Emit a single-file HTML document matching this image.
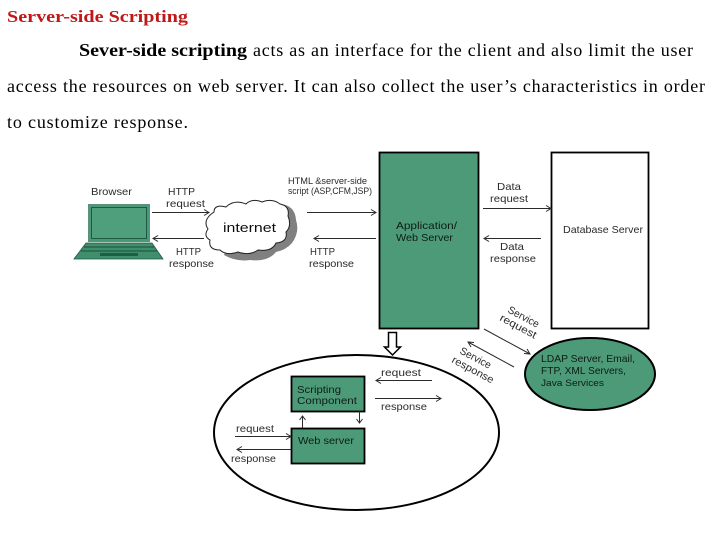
<!DOCTYPE html>
<html>
<head>
<meta charset="utf-8">
<style>
html,body{margin:0;padding:0;background:#fff;width:720px;height:540px;overflow:hidden}
svg{display:block}
.t{font-family:"Liberation Serif",serif;font-size:18px;fill:#000}
.d{font-family:"Liberation Sans",sans-serif;font-size:10.5px;fill:#2a2a2a}
.s{font-size:9px}
.g{fill:#0c1c18}
.a{stroke:#2a2a2a;stroke-width:1;fill:none}
</style>
</head>
<body>
<svg width="720" height="540" viewBox="0 0 720 540" xmlns="http://www.w3.org/2000/svg">
<defs><filter id="b" x="-5%" y="-5%" width="110%" height="110%"><feGaussianBlur stdDeviation="0.38"/></filter></defs>
<rect width="720" height="540" fill="#fff"/>

<text class="t" x="7" y="22" font-weight="bold" style="fill:#c01818;font-size:17px" textLength="181" lengthAdjust="spacingAndGlyphs">Server-side Scripting</text>
<text class="t" x="79" y="56" font-weight="bold" textLength="168" lengthAdjust="spacingAndGlyphs">Sever-side scripting</text>
<text class="t" x="253" y="56" textLength="440" lengthAdjust="spacing">acts as an interface for the client and also limit the user</text>
<text class="t" x="7" y="92" textLength="698" lengthAdjust="spacing">access the resources on web server. It can also collect the user’s characteristics in order</text>
<text class="t" x="7" y="128" textLength="181" lengthAdjust="spacing">to customize response.</text>

<g filter="url(#b)">
<!-- Laptop -->
<rect x="88.500" y="204.500" width="61" height="37" fill="#4a9a78" stroke="#5f8f7a"/>
<rect x="91.500" y="207.500" width="55" height="31" fill="#4f9f7c" stroke="#1f5a42"/>
<path d="M86 243H152L163 259H74Z" fill="#3f8f6c" stroke="#1f5a42" stroke-width=".8"/>
<path d="M84 247H154M81 251H157" stroke="#1f4f3a" stroke-width="1"/>
<rect x="100" y="253" width="38" height="3" fill="#1f5f45"/>

<text class="d" x="91" y="195" textLength="41" lengthAdjust="spacingAndGlyphs">Browser</text>
<text class="d" x="168" y="195" textLength="27" lengthAdjust="spacingAndGlyphs">HTTP</text>
<text class="d" x="166" y="207" textLength="39" lengthAdjust="spacingAndGlyphs">request</text>
<text class="d" x="176" y="255" textLength="25" lengthAdjust="spacingAndGlyphs">HTTP</text>
<text class="d" x="169" y="267" textLength="45" lengthAdjust="spacingAndGlyphs">response</text>
<text class="d" x="310" y="255" textLength="25" lengthAdjust="spacingAndGlyphs">HTTP</text>
<text class="d" x="309" y="267" textLength="45" lengthAdjust="spacingAndGlyphs">response</text>
<text class="d s" x="288" y="184" textLength="79" lengthAdjust="spacingAndGlyphs">HTML &amp;server-side</text>
<text class="d s" x="288" y="194" textLength="84" lengthAdjust="spacingAndGlyphs">script (ASP,CFM,JSP)</text>

<!-- Cloud -->
<path d="M280 204Q295 205 296 220Q300 232 292 243Q286 250 276 252Q268 262 250 260Q236 262 224 255L230 240Z" fill="#808080"/>
<path d="M214 212Q214 204 226 207Q234 199 246 204Q252 198 262 202Q272 198 280 204Q290 206 288 216Q292 226 286 232Q288 242 276 243Q272 252 258 250Q250 256 238 252Q226 256 220 250Q208 250 210 240Q203 236 208 229Q202 220 214 212Z" fill="#fff" stroke="#222" stroke-width="1"/>
<text x="223" y="232" font-family="'Liberation Sans',sans-serif" font-size="13" fill="#111" textLength="53" lengthAdjust="spacingAndGlyphs">internet</text>

<!-- Browser arrows -->
<path class="a" d="M152 212.500H209M204 209.500L209 212.500L204 215.500"/>
<path class="a" d="M204 238.500H153M158 235.500L153 238.500L158 241.500"/>
<path class="a" d="M307 212.500H376M371 209.500L376 212.500L371 215.500"/>
<path class="a" d="M376 238.500H314M319 235.500L314 238.500L319 241.500"/>

<!-- App server -->
<rect x="379.500" y="152.500" width="99" height="176" fill="#4d9a78" stroke="#000" stroke-width="1.800"/>
<text class="d g" x="396" y="229" textLength="61" lengthAdjust="spacingAndGlyphs">Application/</text>
<text class="d g" x="396" y="241" textLength="57" lengthAdjust="spacingAndGlyphs">Web Server</text>

<!-- DB -->
<rect x="551.500" y="152.500" width="97" height="176" fill="#fff" stroke="#000" stroke-width="1.800"/>
<text class="d" x="563" y="233" textLength="80" lengthAdjust="spacingAndGlyphs">Database Server</text>
<text class="d" x="497" y="190" textLength="24" lengthAdjust="spacingAndGlyphs">Data</text>
<text class="d" x="490" y="202" textLength="38" lengthAdjust="spacingAndGlyphs">request</text>
<path class="a" d="M483 208.500H551M546 205.500L551 208.500L546 211.500"/>
<path class="a" d="M541 238.500H484M489 235.500L484 238.500L489 241.500"/>
<text class="d" x="500" y="250" textLength="24" lengthAdjust="spacingAndGlyphs">Data</text>
<text class="d" x="490" y="262" textLength="46" lengthAdjust="spacingAndGlyphs">response</text>

<!-- Large ellipse -->
<ellipse cx="356.500" cy="432.500" rx="142.500" ry="77.500" fill="#fff" stroke="#000" stroke-width="2"/>
<!-- Down arrow -->
<path d="M388.500 332.500H396.500V347H400.500L392.500 355L384.500 347H388.500Z" fill="#fff" stroke="#000" stroke-width="1.500"/>

<!-- Service labels/arrows -->
<text class="d" transform="translate(507 312) rotate(28)" textLength="34" lengthAdjust="spacingAndGlyphs">Service</text>
<text class="d" transform="translate(499 320) rotate(28)" textLength="40" lengthAdjust="spacingAndGlyphs">request</text>
<text class="d" transform="translate(459 353) rotate(28)" textLength="34" lengthAdjust="spacingAndGlyphs">Service</text>
<text class="d" transform="translate(451 362) rotate(28)" textLength="46" lengthAdjust="spacingAndGlyphs">response</text>
<path class="a" d="M484 329L530 354M524 353.500L530 354L527 349"/>
<path class="a" d="M514 367L468 342M474 342.500L468 342L471 347"/>

<!-- LDAP -->
<ellipse cx="590" cy="374" rx="65" ry="36" fill="#4d9a78" stroke="#000" stroke-width="2"/>
<text class="d g" x="541" y="362" textLength="94" lengthAdjust="spacingAndGlyphs">LDAP Server, Email,</text>
<text class="d g" x="541" y="374" textLength="85" lengthAdjust="spacingAndGlyphs">FTP, XML Servers,</text>
<text class="d g" x="541" y="386" textLength="63" lengthAdjust="spacingAndGlyphs" style="font-size:9.500px">Java Services</text>

<!-- Inner boxes -->
<rect x="291.500" y="376.500" width="73" height="35" fill="#4d9a78" stroke="#000" stroke-width="1.800"/>
<text class="d g" x="297" y="393" textLength="44" lengthAdjust="spacingAndGlyphs">Scripting</text>
<text class="d g" x="297" y="404" textLength="60" lengthAdjust="spacingAndGlyphs">Component</text>
<rect x="291.500" y="428.500" width="73" height="35" fill="#4d9a78" stroke="#000" stroke-width="1.800"/>
<text class="d g" x="298" y="444" textLength="56" lengthAdjust="spacingAndGlyphs">Web server</text>

<text class="d" x="381" y="376" textLength="40" lengthAdjust="spacingAndGlyphs">request</text>
<path class="a" d="M432 380.500H376M381 377.500L376 380.500L381 383.500"/>
<path class="a" d="M375 398.500H441M436 395.500L441 398.500L436 401.500"/>
<text class="d" x="381" y="410" textLength="46" lengthAdjust="spacingAndGlyphs">response</text>
<path class="a" d="M302.500 428V416M299.500 420L302.500 416L305.500 420"/>
<path class="a" d="M359.500 411V423M356.500 419L359.500 423L362.500 419"/>
<text class="d" x="236" y="432" textLength="38" lengthAdjust="spacingAndGlyphs">request</text>
<path class="a" d="M235 436.500H291M286 433.500L291 436.500L286 439.500"/>
<path class="a" d="M291 449.500H237M242 446.500L237 449.500L242 452.500"/>
<text class="d" x="231" y="462" textLength="45" lengthAdjust="spacingAndGlyphs">response</text>
</g>
</svg>
</body>
</html>
